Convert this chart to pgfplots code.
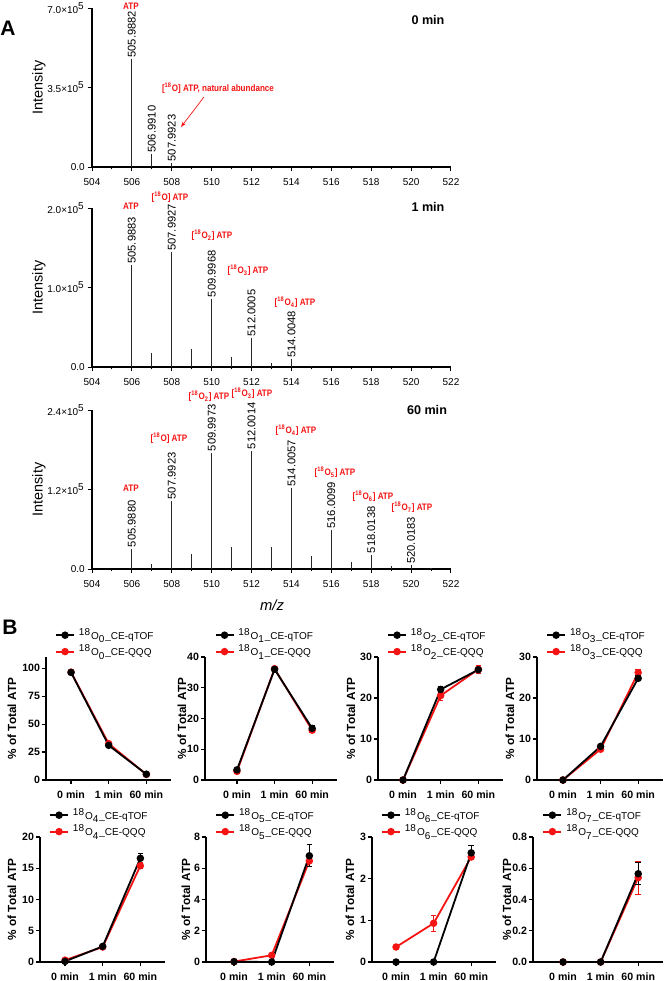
\documentclass[border=0pt]{standalone}
\usepackage{graphicx}
\usepackage{fontspec}
\setmainfont{Liberation Sans}
\usepackage{pgfplots}
\pgfplotsset{compat=1.18}
\usetikzlibrary{arrows.meta}
\definecolor{myred}{RGB}{245,20,20}
\newcommand{\fs}[1]{\fontsize{#1}{#1}\selectfont}
\newcommand{\rl}[1]{\scalebox{0.86}[1]{#1}}
\tikzset{plab/.style={rotate=90, anchor=west, font=\fs{5.6}, inner sep=0.6pt}}
\begin{document}
\begin{tikzpicture}
\path[use as bounding box] (0,0) rectangle (333pt,-490.5pt);
\pgfplotsset{
  specA/.style={scale only axis, width=179.5pt, height=79.5pt,
    xmin=504, xmax=522, ymin=0, scaled y ticks=false,
    axis x line*=bottom, axis y line*=left, tick align=outside,
    xtick={504,506,508,510,512,514,516,518,520,522},
    xticklabels={504,506,508,510,512,514,516,518,520,522},
    minor x tick num=1,
    major tick length=2.2pt, minor tick length=1.2pt,
    axis line style={line width=0.6pt}, tick style={line width=0.5pt, black},
    tick label style={font=\fs{5}}, yticklabel style={inner sep=1.2pt},
    ylabel={Intensity}, ylabel style={font=\fs{7.2}, at={(axis description cs:0,0.5)}, anchor=center, yshift=26.5pt},
    clip=false},
  peak/.style={ycomb, black!85, line width=0.6pt},
  ylx/.style={ylabel style={at={(axis description cs:0,0.5)}, anchor=center, yshift=#1}},
  specB/.style={scale only axis, xmax=2.66, ymin=0,
    axis x line*=bottom, axis y line*=left, tick align=outside,
    xtick={0,1,2}, xticklabels={0 min,1 min,60 min},
    major tick length=2pt,
    axis line style={line width=0.8pt}, tick style={line width=0.6pt, black},
    tick label style={font=\bfseries\fs{5.3}}, yticklabel style={inner sep=0.8pt},
    ylabel={\% of Total ATP}, ylabel style={font=\bfseries\fs{5.9}},
    clip=false, reverse legend,
    legend style={draw=none, fill=none, at={(axis description cs:0.07,1)}, anchor=south west,
      font=\fs{5}, row sep=-2.8pt, inner sep=0pt, yshift=-3pt},
    legend cell align=left,
    legend image code/.code={\draw[mark repeat=2,mark phase=2,##1] plot coordinates {(0pt,0pt) (4.5pt,0pt) (9pt,0pt)};}},
  qtof/.style={black, line width=0.9pt, mark=*, mark size=1.4pt,
    error bars/.cd, y dir=both, y explicit,
    error bar style={line width=0.5pt, black},
    error mark options={rotate=90, mark size=1.4pt, black, line width=0.5pt}},
  qqq/.style={myred, line width=0.9pt, mark=*, mark size=1.4pt,
    error bars/.cd, y dir=both, y explicit,
    error bar style={line width=0.5pt, myred},
    error mark options={rotate=90, mark size=1.4pt, myred, line width=0.5pt}},
}

% ---------- Panel A: 0 min ----------
\begin{axis}[specA, at={(46pt,-83.5pt)}, anchor=south west, ymax=7e5,
  ytick={0,3.5e5,7e5}, yticklabels={0.0,3.5×10\textsuperscript{5},7.0×10\textsuperscript{5}}]
\addplot[peak] coordinates {(506,4.75e5) (507,0.57e5) (508,0.18e5)};
\node[plab] at (axis cs:506,4.75e5) {505.9882};
\node[plab] at (axis cs:507,0.57e5) {506.9910};
\node[plab] at (axis cs:508,0.18e5) {507.9923};
\end{axis}

% ---------- Panel A: 1 min ----------
\begin{axis}[specA, at={(46pt,-183.5pt)}, anchor=south west, ymax=2e5,
  ytick={0,1e5,2e5}, yticklabels={0.0,1.0×10\textsuperscript{5},2.0×10\textsuperscript{5}}]
\addplot[peak] coordinates {(506,1.279e5) (507,0.18e5) (508,1.442e5) (509,0.23e5) (510,0.86e5) (511,0.13e5) (512,0.365e5) (513,0.05e5) (514,0.096e5) (515,0.01e5)};
\node[plab] at (axis cs:506,1.279e5) {505.9883};
\node[plab] at (axis cs:508,1.442e5) {507.9927};
\node[plab] at (axis cs:510,0.86e5) {509.9968};
\node[plab] at (axis cs:512,0.365e5) {512.0005};
\node[plab] at (axis cs:514,0.096e5) {514.0048};
\end{axis}

% ---------- Panel A: 60 min ----------
\begin{axis}[specA, at={(46pt,-284.5pt)}, anchor=south west, ymax=2.4e5,
  ytick={0,1.2e5,2.4e5}, yticklabels={0.0,1.2×10\textsuperscript{5},2.4×10\textsuperscript{5}}]
\addplot[peak] coordinates {(506,0.307e5) (507,0.07e5) (508,1.029e5) (509,0.222e5) (510,1.755e5) (511,0.333e5) (512,1.785e5) (513,0.338e5) (514,1.22e5) (515,0.197e5) (516,0.585e5) (517,0.106e5) (518,0.217e5) (519,0.04e5) (520,0.055e5) (521,0.01e5)};
\node[plab] at (axis cs:506,0.307e5) {505.9880};
\node[plab] at (axis cs:508,1.029e5) {507.9923};
\node[plab] at (axis cs:510,1.755e5) {509.9973};
\node[plab] at (axis cs:512,1.785e5) {512.0014};
\node[plab] at (axis cs:514,1.22e5) {514.0057};
\node[plab] at (axis cs:516,0.585e5) {516.0099};
\node[plab] at (axis cs:518,0.217e5) {518.0138};
\node[plab] at (axis cs:520,0.055e5) {520.0183};
\end{axis}

% ---------- Panel B, row 1 ----------
\begin{axis}[specB, ylx=17pt, at={(23pt,-390pt)}, anchor=south west, width=62.6pt, height=61.5pt,
  xmin=-0.665, ymax=110, ytick={0,25,50,75,100}, yticklabels={0,25,50,75,100}]
\addplot[qqq] coordinates {(0,96.5) +- (0,0.5) (1,32.5) +- (0,1.5) (2,5.0) +- (0,0.3)};
\addlegendentry{\textsuperscript{18}O\textsubscript{0}\_CE-QQQ}
\addplot[qtof] coordinates {(0,96.2) +- (0,0.5) (1,31.0) +- (0,1.0) (2,5.2) +- (0,0.3)};
\addlegendentry{\textsuperscript{18}O\textsubscript{0}\_CE-qTOF}
\end{axis}

\begin{axis}[specB, ylx=11.5pt, at={(102.5pt,-390pt)}, anchor=south west, width=66pt, height=61.5pt,
  xmin=-0.85, ymax=40, ytick={0,10,20,30,40}, yticklabels={0,10,20,30,40}]
\addplot[qqq] coordinates {(0,2.8) +- (0,0.3) (1,36.2) +- (0,0.5) (2,16.2) +- (0,0.9)};
\addlegendentry{\textsuperscript{18}O\textsubscript{1}\_CE-QQQ}
\addplot[qtof] coordinates {(0,3.3) +- (0,0.3) (1,36.0) +- (0,0.6) (2,16.8) +- (0,0.8)};
\addlegendentry{\textsuperscript{18}O\textsubscript{1}\_CE-qTOF}
\end{axis}

\begin{axis}[specB, ylx=13.5pt, at={(189pt,-390pt)}, anchor=south west, width=62.6pt, height=61.5pt,
  xmin=-0.665, ymax=30, ytick={0,10,20,30}, yticklabels={0,10,20,30}]
\addplot[qqq] coordinates {(0,0) +- (0,0) (1,20.6) +- (0,1.2) (2,27.0) +- (0,0.9)};
\addlegendentry{\textsuperscript{18}O\textsubscript{2}\_CE-QQQ}
\addplot[qtof] coordinates {(0,0) +- (0,0) (1,22.1) +- (0,0.7) (2,26.9) +- (0,0.5)};
\addlegendentry{\textsuperscript{18}O\textsubscript{2}\_CE-qTOF}
\end{axis}

\begin{axis}[specB, ylx=13.5pt, at={(268.5pt,-390pt)}, anchor=south west, width=63pt, height=61.5pt,
  xmin=-0.69, ymax=30, ytick={0,10,20,30}, yticklabels={0,10,20,30}]
\addplot[qqq] coordinates {(0,0) +- (0,0) (1,7.5) +- (0,0.6) (2,26.2) +- (0,0.8)};
\addlegendentry{\textsuperscript{18}O\textsubscript{3}\_CE-QQQ}
\addplot[qtof] coordinates {(0,0) +- (0,0) (1,8.2) +- (0,0.5) (2,24.8) +- (0,0.6)};
\addlegendentry{\textsuperscript{18}O\textsubscript{3}\_CE-qTOF}
\end{axis}

% ---------- Panel B, row 2 ----------
\begin{axis}[specB, ylx=14pt, at={(20pt,-481pt)}, anchor=south west, width=62.6pt, height=62.5pt,
  xmin=-0.665, ymax=20, ytick={0,5,10,15,20}, yticklabels={0,5,10,15,20}]
\addplot[qqq] coordinates {(0,0.3) +- (0,0.05) (1,2.4) +- (0,0.4) (2,15.4) +- (0,0.5)};
\addlegendentry{\textsuperscript{18}O\textsubscript{4}\_CE-QQQ}
\addplot[qtof] coordinates {(0,0.1) +- (0,0.05) (1,2.5) +- (0,0.3) (2,16.6) +- (0,0.8)};
\addlegendentry{\textsuperscript{18}O\textsubscript{4}\_CE-qTOF}
\end{axis}

\begin{axis}[specB, ylx=10pt, at={(103pt,-481pt)}, anchor=south west, width=64.1pt, height=62.5pt,
  xmin=-0.745, ymax=8, ytick={0,2,4,6,8}, yticklabels={0,2,4,6,8}]
\addplot[qqq] coordinates {(0,0.03) +- (0,0) (1,0.43) +- (0,0.05) (2,6.47) +- (0,0.35)};
\addlegendentry{\textsuperscript{18}O\textsubscript{5}\_CE-QQQ}
\addplot[qtof] coordinates {(0,0.02) +- (0,0) (1,0) +- (0,0) (2,6.8) +- (0,0.7)};
\addlegendentry{\textsuperscript{18}O\textsubscript{5}\_CE-qTOF}
\end{axis}

\begin{axis}[specB, ylx=11pt, at={(186pt,-481pt)}, anchor=south west, width=62pt, height=62.5pt,
  xmin=-0.64, ymax=3, ytick={0,1,2,3}, yticklabels={0,1,2,3}]
\addplot[qqq] coordinates {(0,0.36) +- (0,0.02) (1,0.93) +- (0,0.19) (2,2.52) +- (0,0.06)};
\addlegendentry{\textsuperscript{18}O\textsubscript{6}\_CE-QQQ}
\addplot[qtof] coordinates {(0,0) +- (0,0) (1,0) +- (0,0) (2,2.62) +- (0,0.17)};
\addlegendentry{\textsuperscript{18}O\textsubscript{6}\_CE-qTOF}
\end{axis}

\begin{axis}[specB, ylx=13pt, at={(266.5pt,-481pt)}, anchor=south west, width=65pt, height=62.5pt,
  xmin=-0.8, ymax=0.8, ytick={0,0.2,0.4,0.6,0.8}, yticklabels={0.0,0.2,0.4,0.6,0.8}]
\addplot[qqq] coordinates {(0,0) +- (0,0) (1,0) +- (0,0) (2,0.54) +- (0,0.105)};
\addlegendentry{\textsuperscript{18}O\textsubscript{7}\_CE-QQQ}
\addplot[qtof] coordinates {(0,0) +- (0,0) (1,0) +- (0,0) (2,0.565) +- (0,0.07)};
\addlegendentry{\textsuperscript{18}O\textsubscript{7}\_CE-qTOF}
\end{axis}

% ---------- annotations (pixel coordinates) ----------
\begin{scope}[x=0.5pt, y=-0.5pt]
\node[font=\bfseries\fs{10.5}] at (8,28) {A};
\node[font=\bfseries\fs{10.5}] at (10,627) {B};
\node[font=\bfseries\fs{6.3}] at (428,20) {0 min};
\node[font=\bfseries\fs{6.3}] at (428,207) {1 min};
\node[font=\bfseries\fs{6.3}] at (427,410) {60 min};
\node[font=\itshape\fs{7.4}] at (272,605) {m/z};
\begin{scope}[every node/.style={myred, font=\bfseries\fs{4.7}, inner sep=0pt}]
\node at (131,6) {\rl{ATP}};
\node at (218,88) {\rl{[\textsuperscript{18}O] ATP, natural abundance}};
\node at (131,206) {\rl{ATP}};
\node at (170,197) {\rl{[\textsuperscript{18}O] ATP}};
\node at (212,235) {\rl{[\textsuperscript{18}O\textsubscript{2}] ATP}};
\node at (248,270) {\rl{[\textsuperscript{18}O\textsubscript{3}] ATP}};
\node at (295,302) {\rl{[\textsuperscript{18}O\textsubscript{4}] ATP}};
\node at (131,488) {\rl{ATP}};
\node at (169,438) {\rl{[\textsuperscript{18}O] ATP}};
\node at (209,396) {\rl{[\textsuperscript{18}O\textsubscript{2}] ATP}};
\node at (252,393) {\rl{[\textsuperscript{18}O\textsubscript{3}] ATP}};
\node at (296,430) {\rl{[\textsuperscript{18}O\textsubscript{4}] ATP}};
\node at (335,472) {\rl{[\textsuperscript{18}O\textsubscript{5}] ATP}};
\node at (373,496) {\rl{[\textsuperscript{18}O\textsubscript{6}] ATP}};
\node at (412,507) {\rl{[\textsuperscript{18}O\textsubscript{7}] ATP}};
\end{scope}
\draw[myred, line width=0.35pt, -{Stealth[length=2.8pt,width=2pt]}] (204,97) -- (181,127);
\end{scope}
\end{tikzpicture}
\end{document}
